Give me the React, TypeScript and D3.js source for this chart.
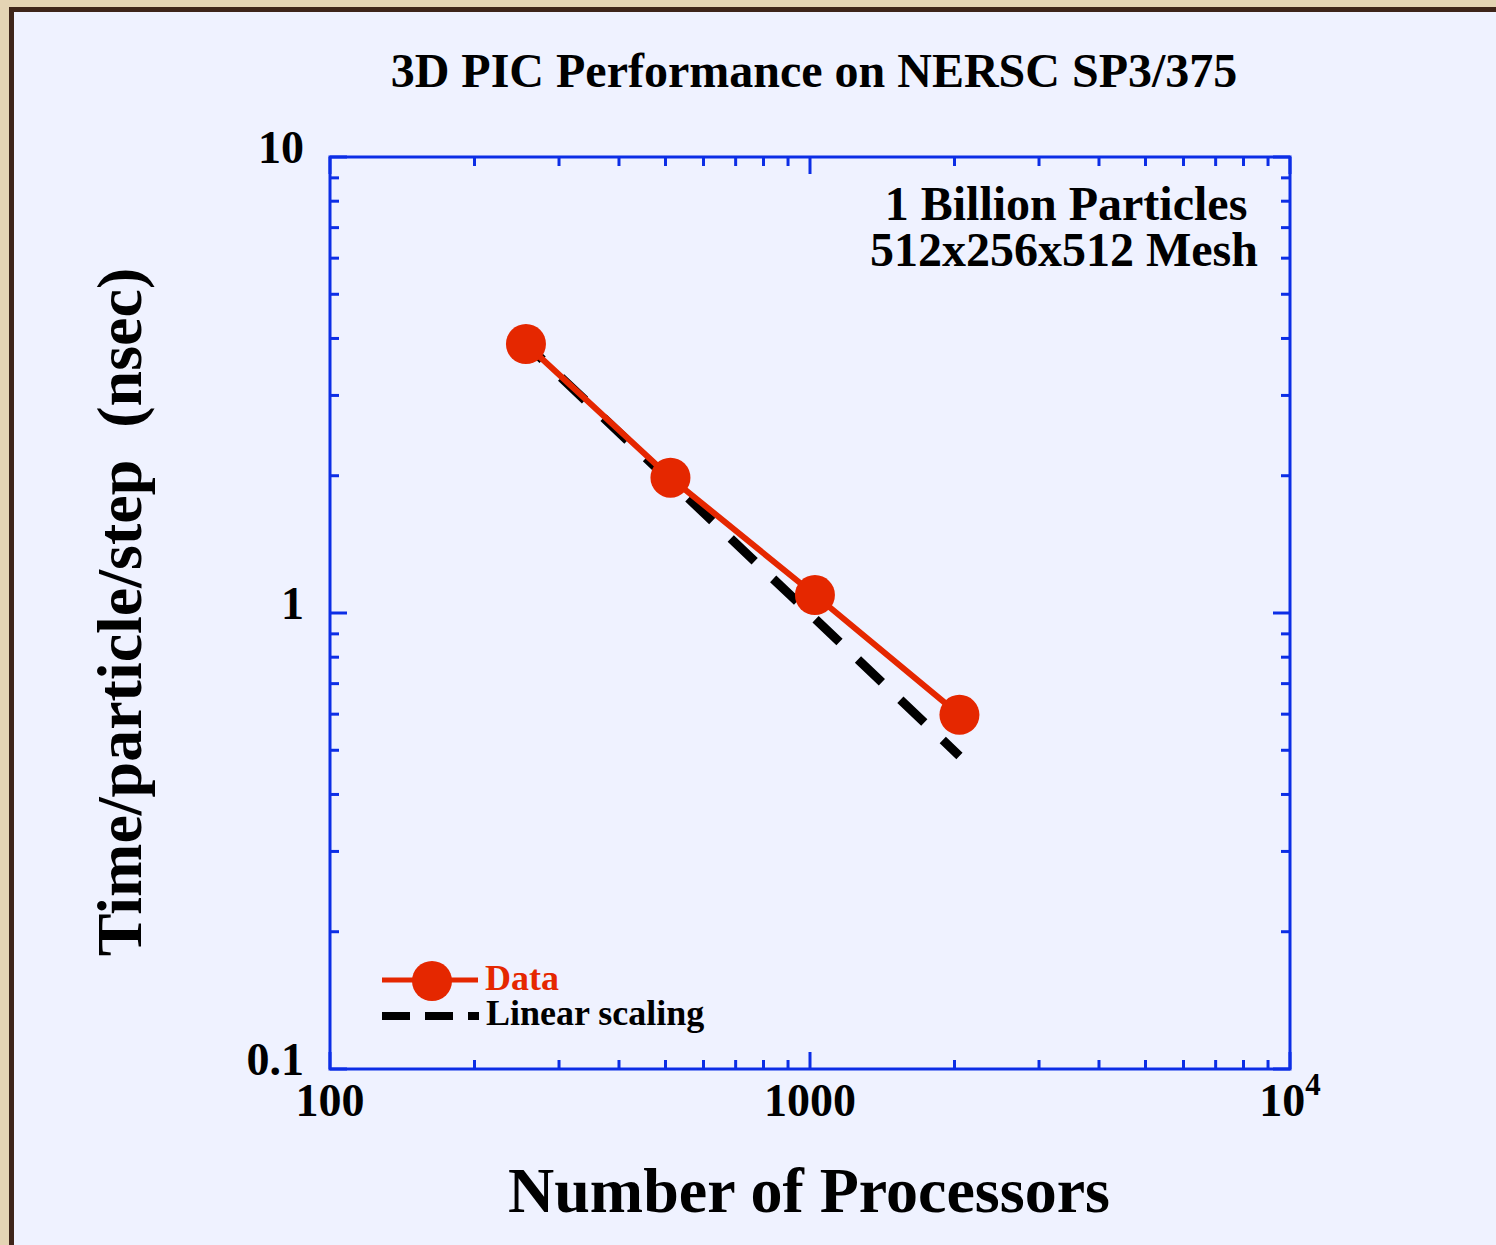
import React, { useRef, useEffect } from 'react';
import * as d3 from 'd3';

// values
const processors = [256, 512, 1024, 2048];
const timePerStep = [3.89, 1.98, 1.095, 0.598];
const linearProcessors = [256, 2048];
const linearTime = [3.89, 0.486];

const xMajorTicks = [100, 1000, 10000];
const xMajorLabels = ['100', '1000', '10|4'];
const xMinorTicks = [200, 300, 400, 500, 600, 700, 800, 900, 2000, 3000, 4000, 5000, 6000, 7000, 8000, 9000];
const yMajorTicks = [0.1, 1, 10];
const yMajorLabels = ['0.1', '1', '10'];
const yMinorTicks = [0.2, 0.3, 0.4, 0.5, 0.6, 0.7, 0.8, 0.9, 2, 3, 4, 5, 6, 7, 8, 9];

const FONT = '"Liberation Serif", "Times New Roman", serif';
const AXIS_BLUE = '#0c2ee6';
const RED = '#e52700';

const App = () => {
  const ref = useRef<SVGSVGElement | null>(null);

  useEffect(() => {
    const W = 1496;
    const H = 1245;
    const plot = { left: 330, right: 1290, top: 157, bottom: 1069 };

    const svg = d3.select(ref.current);
    svg.selectAll('*').remove();

    // outer tan frame + dark border + lavender panel
    svg.append('rect').attr('width', W).attr('height', H).attr('fill', '#e4d4b4');
    svg.append('rect').attr('x', 9).attr('y', 7).attr('width', W).attr('height', H).attr('fill', '#3e251a');
    svg.append('rect').attr('x', 14).attr('y', 12).attr('width', W).attr('height', H).attr('fill', '#eff2ff');

    const x = d3.scaleLog().domain([100, 10000]).range([plot.left, plot.right]);
    const y = d3.scaleLog().domain([0.1, 10]).range([plot.bottom, plot.top]);

    // title
    svg.append('text')
      .attr('x', 814).attr('y', 87)
      .attr('text-anchor', 'middle')
      .attr('font-family', FONT).attr('font-weight', 'bold').attr('font-size', 48)
      .text('3D PIC Performance on NERSC SP3/375');

    const g = svg.append('g');

    // linear scaling (dashed, behind data)
    const line = d3.line<[number, number]>().x(d => x(d[0])).y(d => y(d[1]));
    g.append('path')
      .datum(linearProcessors.map((p, i) => [p, linearTime[i]] as [number, number]))
      .attr('d', line)
      .attr('fill', 'none')
      .attr('stroke', '#000')
      .attr('stroke-width', 9)
      .attr('stroke-dasharray', '33,25.5')
      .attr('stroke-dashoffset', 10);

    // data line + markers
    const pts = processors.map((p, i) => [p, timePerStep[i]] as [number, number]);
    g.append('path')
      .datum(pts)
      .attr('d', line)
      .attr('fill', 'none')
      .attr('stroke', RED)
      .attr('stroke-width', 6);
    g.selectAll('circle.pt')
      .data(pts)
      .enter()
      .append('circle')
      .attr('class', 'pt')
      .attr('cx', d => x(d[0]))
      .attr('cy', d => y(d[1]))
      .attr('r', 20)
      .attr('fill', RED);

    // frame
    svg.append('rect')
      .attr('x', plot.left).attr('y', plot.top)
      .attr('width', plot.right - plot.left).attr('height', plot.bottom - plot.top)
      .attr('fill', 'none').attr('stroke', AXIS_BLUE).attr('stroke-width', 3);

    const ticks = svg.append('g').attr('stroke', AXIS_BLUE).attr('stroke-width', 3);
    const xTick = (v: number, len: number) => {
      ticks.append('line').attr('x1', x(v)).attr('x2', x(v)).attr('y1', plot.bottom).attr('y2', plot.bottom - len);
      ticks.append('line').attr('x1', x(v)).attr('x2', x(v)).attr('y1', plot.top).attr('y2', plot.top + len);
    };
    const yTick = (v: number, len: number) => {
      ticks.append('line').attr('y1', y(v)).attr('y2', y(v)).attr('x1', plot.left).attr('x2', plot.left + len);
      ticks.append('line').attr('y1', y(v)).attr('y2', y(v)).attr('x1', plot.right).attr('x2', plot.right - len);
    };
    xMinorTicks.forEach(v => xTick(v, 9));
    xMajorTicks.forEach(v => xTick(v, 17));
    yMinorTicks.forEach(v => yTick(v, 9));
    yMajorTicks.forEach(v => yTick(v, 17));

    // tick labels
    const labels = svg.append('g')
      .attr('font-family', FONT).attr('font-weight', 'bold').attr('font-size', 46).attr('fill', '#000');
    xMajorTicks.forEach((v, i) => {
      const t = labels.append('text').attr('x', x(v)).attr('y', 1116).attr('text-anchor', 'middle');
      const [base, sup] = xMajorLabels[i].split('|');
      t.append('tspan').text(base);
      if (sup) t.append('tspan').attr('font-size', 31).attr('dy', -21).text(sup);
    });
    yMajorTicks.forEach((v, i) => {
      labels.append('text').attr('x', 304).attr('y', y(v) + 6).attr('text-anchor', 'end').text(yMajorLabels[i]);
    });

    // annotation
    const note = svg.append('text')
      .attr('text-anchor', 'middle')
      .attr('font-family', FONT).attr('font-weight', 'bold').attr('font-size', 48);
    note.append('tspan').attr('x', 1066).attr('y', 220).text('1 Billion Particles');
    note.append('tspan').attr('x', 1064).attr('y', 266).text('512x256x512 Mesh');

    // axis titles
    svg.append('text')
      .attr('x', 809).attr('y', 1212)
      .attr('text-anchor', 'middle')
      .attr('font-family', FONT).attr('font-weight', 'bold').attr('font-size', 64)
      .text('Number of Processors');
    svg.append('text')
      .attr('transform', 'translate(141,612) rotate(-90)')
      .attr('text-anchor', 'middle')
      .attr('font-family', FONT).attr('font-weight', 'bold').attr('font-size', 64)
      .style('white-space', 'pre')
      .text('Time/particle/step  (nsec)');

    // legend
    const lg = svg.append('g');
    lg.append('line').attr('x1', 382).attr('x2', 478).attr('y1', 980).attr('y2', 980)
      .attr('stroke', RED).attr('stroke-width', 5);
    lg.append('circle').attr('cx', 432).attr('cy', 981).attr('r', 20).attr('fill', RED);
    lg.append('text').attr('x', 485).attr('y', 990)
      .attr('font-family', FONT).attr('font-weight', 'bold').attr('font-size', 36).attr('fill', RED)
      .text('Data');
    lg.append('line').attr('x1', 382).attr('x2', 479).attr('y1', 1016).attr('y2', 1016)
      .attr('stroke', '#000').attr('stroke-width', 8).attr('stroke-dasharray', '28,15');
    lg.append('text').attr('x', 486).attr('y', 1025)
      .attr('font-family', FONT).attr('font-weight', 'bold').attr('font-size', 36).attr('fill', '#000')
      .text('Linear scaling');
  }, []);

  return (
    <svg
      ref={ref}
      width={1496}
      height={1245}
      style={{ position: 'absolute', left: 0, top: 0, display: 'block' }}
    />
  );
};

export default App;
